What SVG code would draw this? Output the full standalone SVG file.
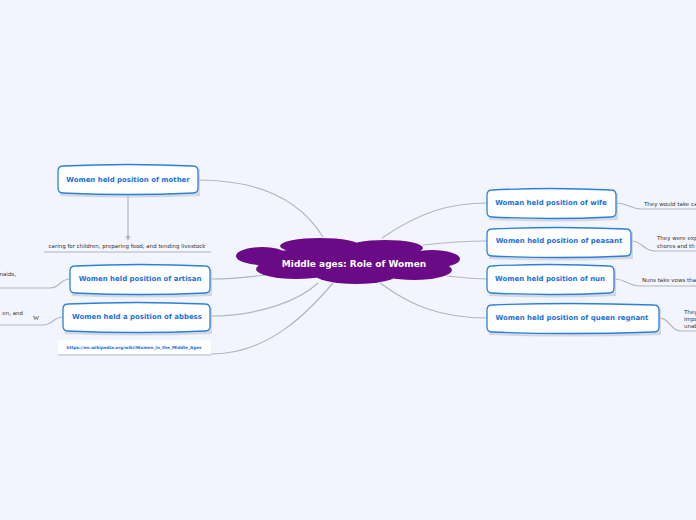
<svg xmlns="http://www.w3.org/2000/svg" width="696" height="520" viewBox="0 0 696 520">
<defs>
<style>
.bg{fill:#f2f5fd}
.box{fill:#ffffff;stroke:#2a80dc;stroke-width:1.3}
.shadow{fill:#c8ccd6;opacity:0.7}
.nt{font-family:"DejaVu Sans",Verdana,sans-serif;font-weight:bold;font-size:6.95px;fill:#1a70dc;text-anchor:middle;dominant-baseline:central}
.st{font-family:"DejaVu Sans",Verdana,sans-serif;font-size:5.5px;fill:#333333;dominant-baseline:central}
.ct{font-family:"DejaVu Sans",Verdana,sans-serif;font-weight:bold;font-size:9px;fill:#ffffff;text-anchor:middle;dominant-baseline:central}
.lk{font-family:"DejaVu Sans",Verdana,sans-serif;font-weight:bold;font-size:4.2px;fill:#1a70dc;text-anchor:middle;dominant-baseline:central}
.c{fill:none;stroke:#b4b6be;stroke-width:1.2}
.cloud{fill:#6b0a86}
</style>
<marker id="ah" markerWidth="6" markerHeight="6" refX="3" refY="3" orient="auto" markerUnits="userSpaceOnUse">
<path d="M0,0.5 L5,3 L0,5.5 Z" fill="#b4b6be"/>
</marker>
</defs>
<rect class="bg" x="0" y="0" width="696" height="520"/>

<g id="connectors">
<path class="c" d="M198,180 C260,180 300,200 323,237"/>
<path class="c" d="M210,279 C235,279 250,277 265,275"/>
<path class="c" d="M210,316 C260,316 300,300 318,283"/>
<path class="c" d="M211,354 C270,354 310,310 333,283"/>
<path class="c" d="M382,238 C420,212 450,203 487,203"/>
<path class="c" d="M423,245 C450,242 470,241 487,241"/>
<path class="c" d="M447,276 C465,278 475,279 487,279"/>
<path class="c" d="M380,283 C410,305 440,318 487,318"/>
<path class="c" d="M128,194 L128,239" marker-end="url(#ah)"/>
<path class="c" d="M44,252 L211,252" stroke-width="1"/>
<path class="c" d="M616,203 C628,203 630,209 642,209 L696,209"/>
<path class="c" d="M631,241 C643,241 643,251 655,251 L696,251"/>
<path class="c" d="M614,279 C626,279 628,286 640,286 L696,286"/>
<path class="c" d="M659,318 C670,318 670,331 682,331 L696,331"/>
<path class="c" d="M70,279 C60,279 60,288 50,288 L0,288"/>
<path class="c" d="M63,317 C53,317 53,325 43,325 L0,325"/>
</g>

<g id="center">
<ellipse class="cloud" cx="262" cy="256" rx="26" ry="9"/>
<ellipse class="cloud" cx="432" cy="259" rx="28" ry="9"/>
<ellipse class="cloud" cx="320" cy="246" rx="40" ry="8"/>
<ellipse class="cloud" cx="385" cy="248" rx="38" ry="8"/>
<ellipse class="cloud" cx="296" cy="269" rx="40" ry="10"/>
<ellipse class="cloud" cx="356" cy="274" rx="42" ry="10"/>
<ellipse class="cloud" cx="414" cy="270" rx="38" ry="10"/>
<ellipse class="cloud" cx="348" cy="261" rx="95" ry="14"/>
<text class="ct" x="354" y="264">Middle ages: Role of Women</text>
</g>

<g id="n-mother">
<path class="shadow" d="M60,169 Q128,165 200,169 L200,196 Q128,199 60,196 Z"/>
<path class="box" d="M63,166 Q128,163 193,166 Q198,166 198,171 L198,188 Q198,193 193,193 Q128,196 63,193 Q58,193 58,188 L58,171 Q58,166 63,166 Z"/>
<text class="nt" x="128" y="180">Women held position of mother</text>
</g>
<g id="n-mother-detail">
<text class="st" x="127" y="246" text-anchor="middle">caring for children, preparing food, and tending livestock</text>
</g>

<g id="n-artisan">
<path class="shadow" d="M72,269 Q140,265 212,269 L212,296 Q140,299 72,296 Z"/>
<path class="box" d="M75,266 Q140,263 205,266 Q210,266 210,271 L210,288 Q210,293 205,293 Q140,296 75,293 Q70,293 70,288 L70,271 Q70,266 75,266 Z"/>
<text class="nt" x="140" y="279">Women held position of artisan</text>
</g>
<g id="n-artisan-detail">
<text class="st" x="16" y="274" text-anchor="end">maids,</text>
</g>

<g id="n-abbess">
<path class="shadow" d="M65,307 Q137,303 212,307 L212,334 Q137,337 65,334 Z"/>
<path class="box" d="M68,304 Q137,301 205,304 Q210,304 210,309 L210,326 Q210,331 205,331 Q137,334 68,331 Q63,331 63,326 L63,309 Q63,304 68,304 Z"/>
<text class="nt" x="137" y="317">Women held a position of abbess</text>
</g>
<g id="n-abbess-detail">
<text class="st" x="23" y="313" text-anchor="end">en, and</text>
<text x="36" y="317" font-family="'Liberation Serif',serif" font-size="6.5px" fill="#333333" text-anchor="middle" dominant-baseline="central">W</text>
</g>

<g id="n-link">
<rect x="58" y="340" width="153" height="15" fill="#ffffff"/>
<path class="c" d="M58,355 L211,355" stroke-width="1"/>
<text class="lk" x="134" y="347">https://en.wikipedia.org/wiki/Women_in_the_Middle_Ages</text>
</g>

<g id="n-wife">
<path class="shadow" d="M489,193 Q551,189 618,193 L618,220 Q551,223 489,220 Z"/>
<path class="box" d="M492,190 Q551,187 611,190 Q616,190 616,195 L616,212 Q616,217 611,217 Q551,220 492,217 Q487,217 487,212 L487,195 Q487,190 492,190 Z"/>
<text class="nt" x="551" y="203">Woman held position of wife</text>
</g>
<g id="n-wife-detail">
<text class="st" x="644" y="204">They would take ca</text>
</g>

<g id="n-peasant">
<path class="shadow" d="M489,232 Q559,228 633,232 L633,259 Q559,262 489,259 Z"/>
<path class="box" d="M492,229 Q559,226 626,229 Q631,229 631,234 L631,251 Q631,256 626,256 Q559,259 492,256 Q487,256 487,251 L487,234 Q487,229 492,229 Z"/>
<text class="nt" x="559" y="241">Women held position of peasant</text>
</g>
<g id="n-peasant-detail">
<text class="st" x="657" y="238">They were exp</text>
<text class="st" x="657" y="246">chores and th</text>
</g>

<g id="n-nun">
<path class="shadow" d="M489,269 Q550,265 616,269 L616,296 Q550,299 489,296 Z"/>
<path class="box" d="M492,266 Q550,263 609,266 Q614,266 614,271 L614,288 Q614,293 609,293 Q550,296 492,293 Q487,293 487,288 L487,271 Q487,266 492,266 Z"/>
<text class="nt" x="550" y="279">Women held position of nun</text>
</g>
<g id="n-nun-detail">
<text class="st" x="642" y="280">Nuns take vows tha</text>
</g>

<g id="n-queen">
<path class="shadow" d="M489,308 Q568,304 661,308 L661,335 Q568,338 489,335 Z"/>
<path class="box" d="M492,305 Q568,302 654,305 Q659,305 659,310 L659,327 Q659,332 654,332 Q568,335 492,332 Q487,332 487,327 L487,310 Q487,305 492,305 Z"/>
<text class="nt" x="572" y="318">Women held position of queen regnant</text>
</g>
<g id="n-queen-detail">
<text class="st" x="684" y="312">They</text>
<text class="st" x="684" y="319">impo</text>
<text class="st" x="684" y="326">unab</text>
</g>
</svg>
